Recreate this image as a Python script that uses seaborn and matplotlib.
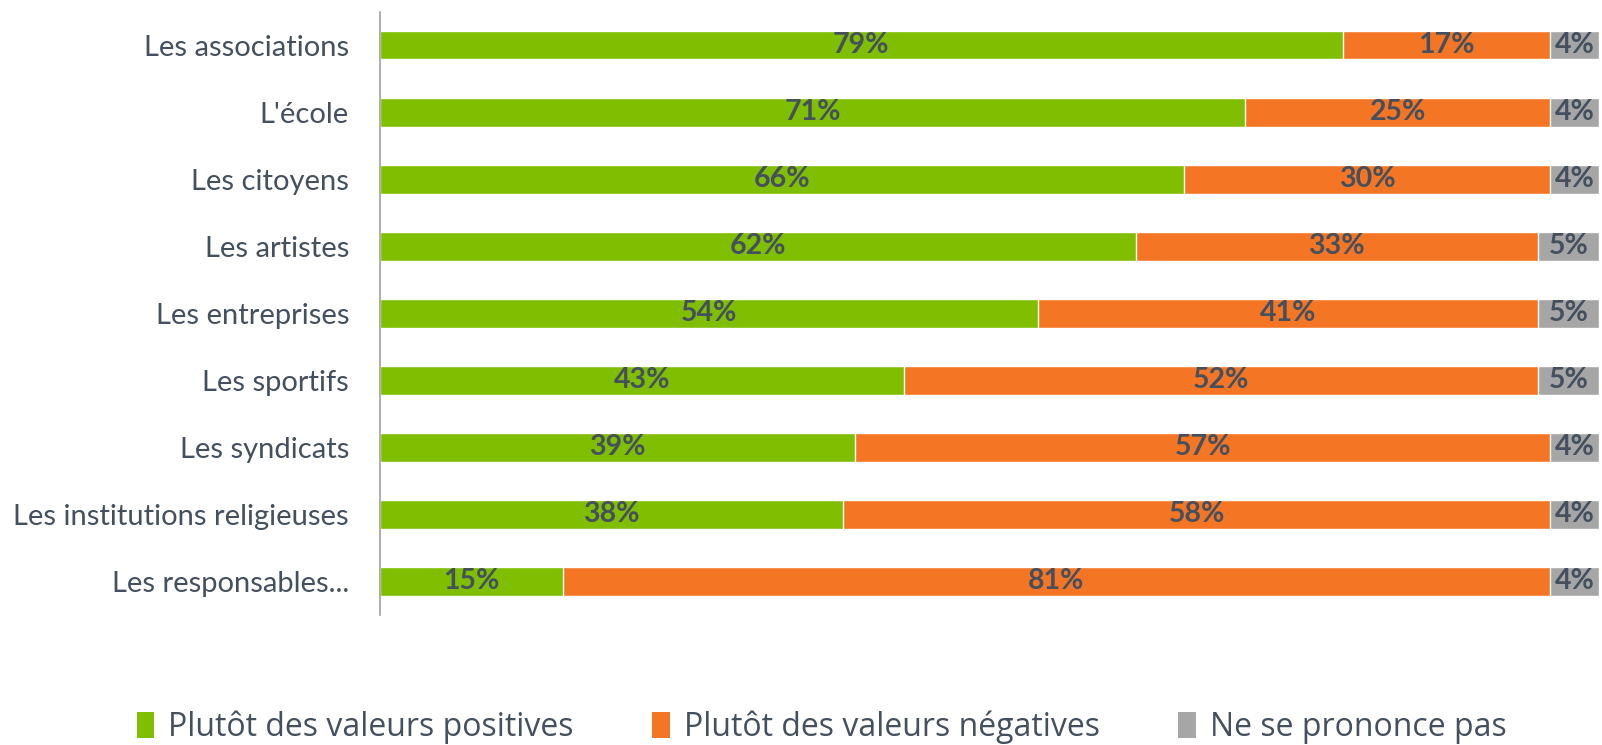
import matplotlib
matplotlib.use("Agg")
import matplotlib.pyplot as plt
import seaborn as sns
import pandas as pd
import numpy as np
from matplotlib.patches import Patch

categories = ["Les associations", "L'école", "Les citoyens", "Les artistes",
              "Les entreprises", "Les sportifs", "Les syndicats",
              "Les institutions religieuses", "Les responsables..."]
positive = [79, 71, 66, 62, 54, 43, 39, 38, 15]
negative = [17, 25, 30, 33, 41, 52, 57, 58, 81]
no_answer = [4, 4, 4, 5, 5, 5, 4, 4, 4]
series_names = ["Plutôt des valeurs positives", "Plutôt des valeurs négatives", "Ne se prononce pas"]

colors = ["#7FBE00", "#F47524", "#A6A6A6"]
text_color = "#44505E"

sns.set_theme(style="white")
plt.rcParams['font.family'] = ['Lato', 'DejaVu Sans']

df = pd.DataFrame({"cat": categories, "pos": positive, "neg": negative, "na": no_answer})
df["c1"] = df["pos"]
df["c2"] = df["pos"] + df["neg"]
df["c3"] = df["pos"] + df["neg"] + df["na"]

fig = plt.figure(figsize=(16.02, 7.45), dpi=100)
ax = fig.add_axes([0.237, 0.1745, 0.761, 0.8095])

bw = 0.42
for col, c in zip(["c3", "c2", "c1"], colors[::-1]):
    sns.barplot(data=df, y="cat", x=col, color=c, orient="h", width=bw,
                edgecolor="white", linewidth=1, ax=ax, saturation=1, errorbar=None)

for i, (p, n, a) in enumerate(zip(positive, negative, no_answer)):
    for start, v in [(0, p), (p, n), (p + n, a)]:
        ax.text(start + v / 2, i, f"{v}%", ha="center", va="center",
                fontsize=20.5, fontweight="bold", color=text_color)

ax.set_xlim(0, 100)
ax.set_ylim(len(categories) - 0.5, -0.5)
ax.set_xlabel("")
ax.set_ylabel("")
ax.set_xticks([])
ax.tick_params(axis="y", length=0, pad=22, labelsize=21, labelcolor=text_color)
for s in ["top", "right", "bottom"]:
    ax.spines[s].set_visible(False)
ax.spines["left"].set_color("#A0A0A0")
ax.spines["left"].set_linewidth(1.2)

handles = [Patch(facecolor=c, edgecolor="none") for c in colors]
fig.legend(handles, series_names, loc="center", bbox_to_anchor=(0.513, 0.024),
           ncol=3, frameon=False, handlelength=0.55, handleheight=0.85,
           handletextpad=0.45, columnspacing=2.45, labelcolor=text_color,
           prop={"family": "Open Sans", "size": 23})

fig.savefig("out.png", dpi=100)
